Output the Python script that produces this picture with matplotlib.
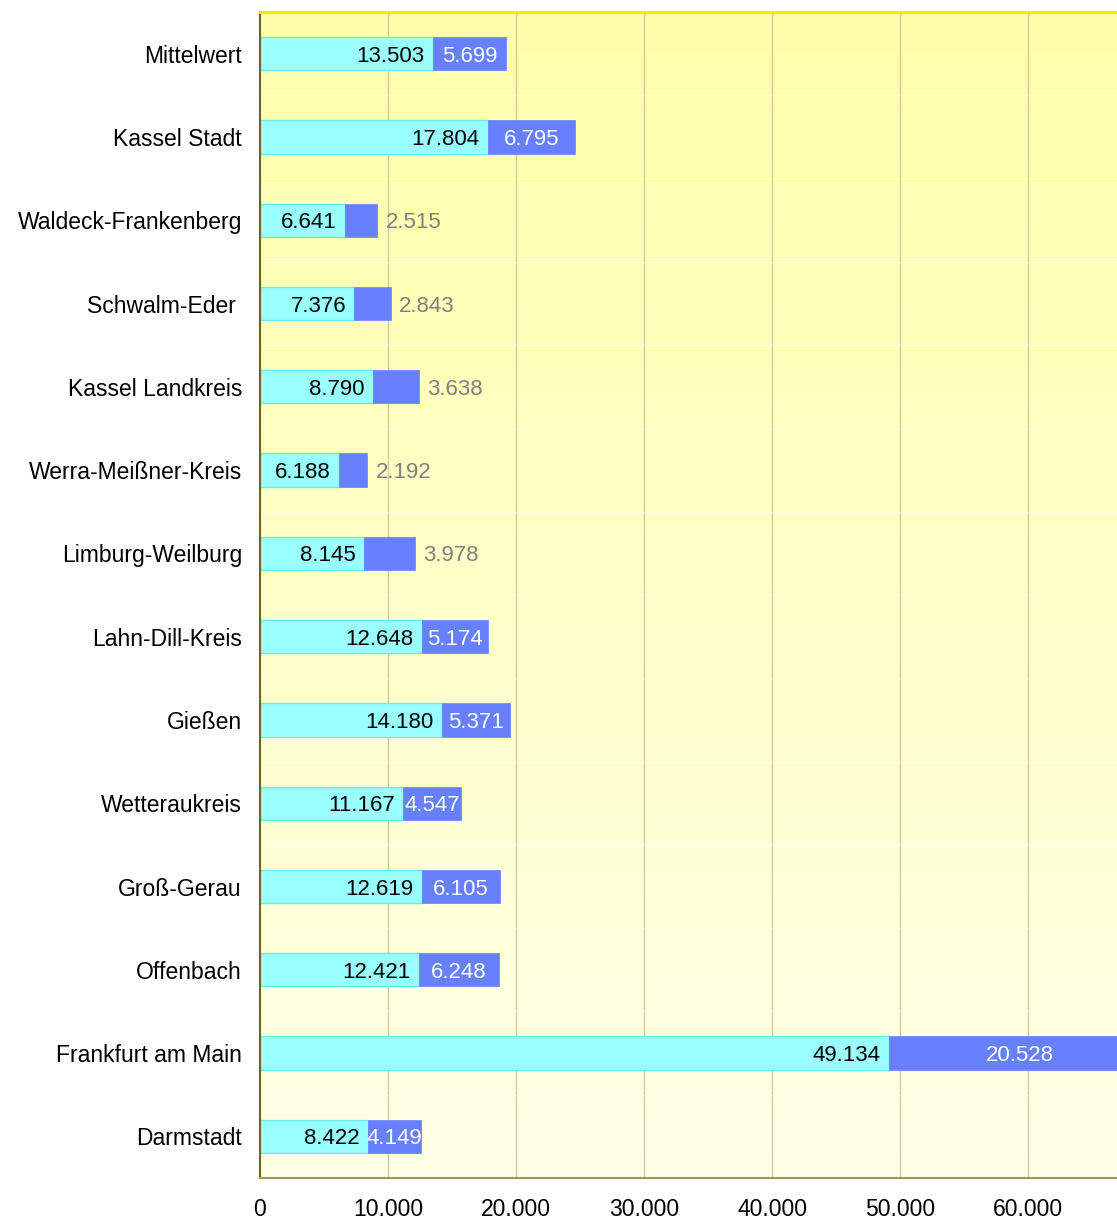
import matplotlib
matplotlib.use("Agg")
import matplotlib.pyplot as plt
import numpy as np

categories = ["Mittelwert", "Kassel Stadt", "Waldeck-Frankenberg", "Schwalm-Eder ",
              "Kassel Landkreis", "Werra-Meißner-Kreis", "Limburg-Weilburg",
              "Lahn-Dill-Kreis", "Gießen", "Wetteraukreis", "Groß-Gerau",
              "Offenbach", "Frankfurt am Main", "Darmstadt"]
series_a = [13503, 17804, 6641, 7376, 8790, 6188, 8145, 12648, 14180, 11167,
            12619, 12421, 49134, 8422]
series_b = [5699, 6795, 2515, 2843, 3638, 2192, 3978, 5174, 5371, 4547,
            6105, 6248, 20528, 4149]
xticks = [0, 10000, 20000, 30000, 40000, 50000, 60000]
xtick_labels = ["0", "10.000", "20.000", "30.000", "40.000", "50.000", "60.000"]

def fmt(v):
    return f"{v:,}".replace(",", ".")

plt.rcParams['font.family'] = ['Liberation Sans', 'DejaVu Sans']

W, H = 1117, 1220
fig = plt.figure(figsize=(W / 100, H / 100), dpi=100)
ax = fig.add_axes([260 / W, (H - 1178) / H, (W - 260) / W, (1178 - 12) / H])

n = len(categories)
y = np.arange(n)
xmax = 66950
ax.set_xlim(0, xmax)
ax.set_ylim(n - 0.5, -0.5)

# gradient background
grad = np.linspace(0, 1, 256).reshape(-1, 1)
top = np.array([255, 255, 170]) / 255
bot = np.array([255, 255, 232]) / 255
img = top[None, None, :] * (1 - grad[:, :, None]) + bot[None, None, :] * grad[:, :, None]
ax.imshow(img, extent=[0, 1, 0, 1], transform=ax.transAxes, aspect='auto',
          origin='upper', zorder=0)

# grid
for t in xticks[1:]:
    ax.axvline(t, color='#d2cb9c', lw=1.0, zorder=1)
for k in range(n - 1):
    ax.axhline(k + 0.5, color='#fffff0', lw=0.8, alpha=0.7, zorder=1)

h = 0.4
ax.barh(y, series_a, height=h, color='#99ffff', edgecolor='#66eeee', lw=1, zorder=2)
ax.barh(y, series_b, left=series_a, height=h, color='#6680ff', edgecolor='#6680ff', lw=0.5, zorder=2)

fs_val = 16
for i in range(n):
    a, b = series_a[i], series_b[i]
    ax.annotate(fmt(a), (a, i), xytext=(-6, 0), textcoords='offset points',
                ha='right', va='center_baseline', fontsize=fs_val, color='black', zorder=3)
    if b >= 4100:
        ax.text(a + b / 2, i, fmt(b), ha='center', va='center_baseline', fontsize=fs_val,
                color='white', zorder=3)
    else:
        ax.annotate(fmt(b), (a + b, i), xytext=(6, 0), textcoords='offset points',
                    ha='left', va='center_baseline', fontsize=fs_val, color='#808080', zorder=3)

ax.set_yticks(y)
ax.set_yticklabels(categories, fontsize=16.5)
ax.set_xticks(xticks)
ax.set_xticklabels(xtick_labels, fontsize=16.5)
ax.tick_params(axis='both', length=0)
ax.tick_params(axis='y', pad=13)
ax.tick_params(axis='x', pad=14.5)

ax.spines['right'].set_visible(False)
ax.spines['top'].set_color('#eee800')
ax.spines['top'].set_linewidth(2)
ax.spines['left'].set_color('#6b6420')
ax.spines['left'].set_linewidth(1.5)
ax.spines['bottom'].set_color('#a09850')
ax.spines['bottom'].set_linewidth(1.5)

fig.savefig("out.png", dpi=100)
